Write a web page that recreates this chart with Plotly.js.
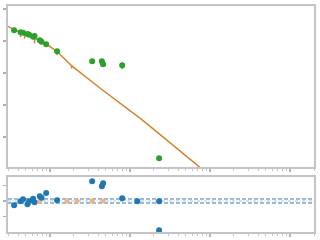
<!DOCTYPE html>
<html><head><meta charset="utf-8">
<script src="https://cdn.plot.ly/plotly-3.0.1.min.js"></script>
<style>html,body{margin:0;padding:0;background:#fff}#c{width:320px;height:240px}</style>
</head><body><div id="c"></div>
<script>
// observed data (green)
const obsX = [0.358,0.431,0.463,0.526,0.551,0.618,0.644,0.75,0.787,0.9,1.233,3.38,4.47,4.63,8.02,23.2];
const obsY = [0.216,0.187,0.182,0.166,0.157,0.136,0.143,0.105,0.095,0.0789,0.0476,0.0232,0.0232,0.0187,0.0174,2.16e-5];
const obsErr = [0.01,0.009,0.009,0.008,0.008,0.007,0.007,0.005,0.005,0.004,0.0025,0.0012,0.0012,0.001,0.004,1.5e-6];
// model curve (orange)
const modelX = [0.292,0.358,0.431,0.551,0.75,0.9,1.233,1.866,4.22,14.0,23.7,73.5,178];
const modelY = [0.294,0.224,0.1845,0.1486,0.1038,0.0805,0.047,0.0169,0.0034,3.57e-4,1.21e-4,1.18e-5,1.9e-6];
// model points with lower error (orange spikes)
const mPtX = [0.431,0.483,0.644,1.233,1.866];
const mPtY = [0.1845,0.171,0.129,0.047,0.0169];
const mPtLow = [0.133,0.118,0.0848,0.0357,0.0138];
// residuals (blue)
const resX = [0.358,0.431,0.463,0.526,0.551,0.618,0.644,0.75,0.787,0.9,1.233,3.38,4.47,4.63,8.02,12.4,23.2,23.2];
const resY = [-1.39,-0.1,0.55,-1.06,-0.1,0.74,-0.42,1.52,1.06,2.58,0.23,6.35,4.74,5.71,0.87,-0.06,-0.06,-9.45];
// model-only residual markers (light orange)
const resModX = [0.75,1.644,2.19,3.38,4.63];
const resModY = [0,0,0,0,0];
// reference levels in residual panel
const refLevels = [0.65, 0, -0.65];
const refDash = ['4px,2px','3px,1.5px,1px,1.5px','4px,2px'];
const refColor = ['#3f76b0','#a8c6e6','#3f76b0'];

const spine = '#c4c4c4', tickc = '#b0b0b0';
const xr = [Math.log10(0.3), Math.log10(2000)];
const minorX = [];
for (let d = -1; d <= 3; d++) for (let m = 2; m <= 9; m++) minorX.push(m * Math.pow(10, d));
const baseX = {type:'log', range:xr, showline:true, linecolor:spine, linewidth:2, mirror:true,
  ticks:'outside', ticklen:3, tickwidth:1.5, tickcolor:tickc, tickvals:[0.1,1,10,100,1000], showticklabels:false,
  showgrid:false, zeroline:false,
  minor:{ticks:'outside', ticklen:2, tickwidth:1, tickcolor:'#c8c8c8', tickvals:minorX, showgrid:false}};

const traces = [
  {x:modelX, y:modelY, type:'scatter', mode:'lines', line:{color:'#d4832e', width:1.5}, xaxis:'x', yaxis:'y', hoverinfo:'skip'},
  {x:mPtX, y:mPtY, type:'scatter', mode:'markers', marker:{size:1, color:'#d4832e'},
   error_y:{type:'data', symmetric:false, array:mPtY.map(()=>0), arrayminus:mPtY.map((v,i)=>v-mPtLow[i]), color:'#d4832e', thickness:1.5, width:0},
   xaxis:'x', yaxis:'y'},
  {x:obsX, y:obsY, type:'scatter', mode:'markers', marker:{size:6, color:'#2ca02c'},
   error_y:{type:'data', array:obsErr, color:'#2ca02c', thickness:1.2, width:0}, xaxis:'x', yaxis:'y'},
  {x:resModX, y:resModY, type:'scatter', mode:'markers', marker:{size:5, color:'#f7b27a'}, xaxis:'x2', yaxis:'y2'},
  {x:resX, y:resY, type:'scatter', mode:'markers', marker:{size:6, color:'#1f77b4'}, xaxis:'x2', yaxis:'y2'}
];

const shapes = refLevels.map((v,i)=>({type:'line', xref:'x2 domain', yref:'y2', x0:0, x1:1, y0:v, y1:v,
  line:{color:refColor[i], width:1, dash:refDash[i]}, layer:'below'}));

const layout = {
  width:320, height:240, margin:{l:8, r:6, t:6, b:8}, showlegend:false,
  paper_bgcolor:'#fff', plot_bgcolor:'#fff',
  xaxis: Object.assign({}, baseX, {anchor:'y'}),
  xaxis2: Object.assign({}, baseX, {anchor:'y2', matches:'x'}),
  yaxis: {type:'log', domain:[0.2876,1], range:[-4.9375,0.09375], showline:true, linecolor:spine, linewidth:2, mirror:true,
    ticks:'outside', ticklen:3, tickwidth:1.5, tickcolor:tickc, tickvals:[1e-4,1e-3,1e-2,1e-1,1], showticklabels:false, showgrid:false, zeroline:false},
  yaxis2: {domain:[0,0.2434], range:[-10,7.74], showline:true, linecolor:spine, linewidth:2, mirror:true,
    ticks:'outside', ticklen:3, tickwidth:1.5, tickcolor:tickc, tickvals:[-5,0,5], showticklabels:false, showgrid:false, zeroline:false},
  shapes: shapes
};
Plotly.newPlot('c', traces, layout, {staticPlot:true});
</script></body></html>
